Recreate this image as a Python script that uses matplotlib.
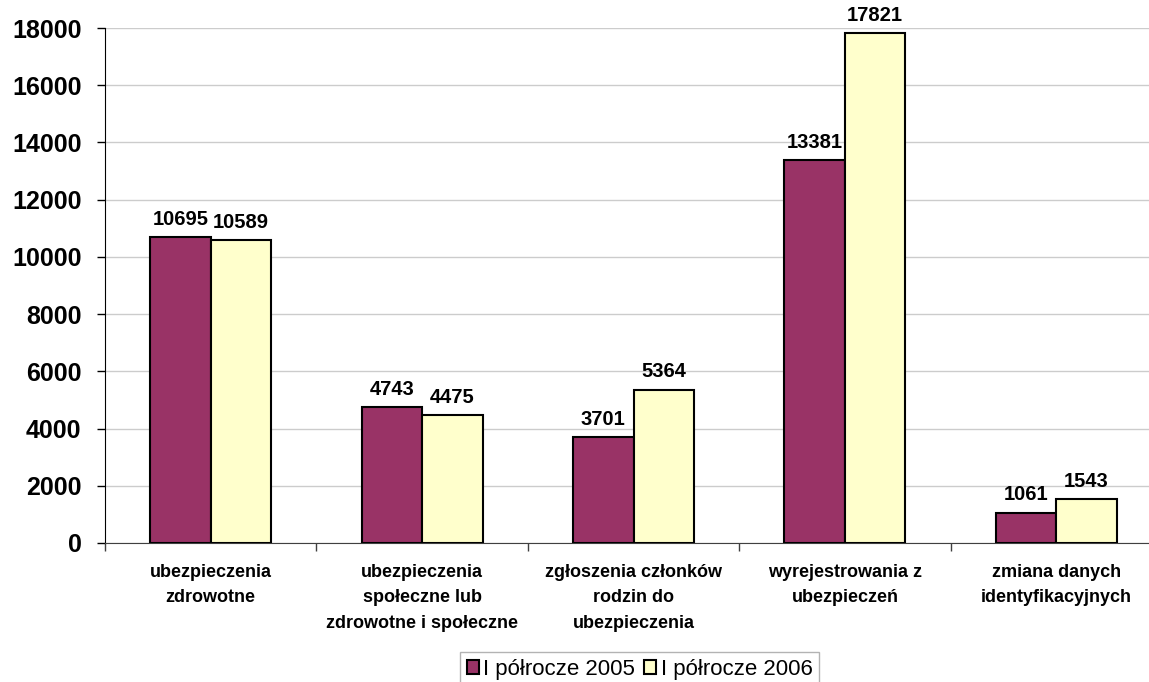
import numpy as np
import matplotlib.pyplot as plt

plt.rcParams['font.family'] = ['Liberation Sans', 'DejaVu Sans']

# dane
kategorie = ["ubezpieczenia\nzdrowotne",
             "ubezpieczenia\nspołeczne lub\nzdrowotne i społeczne",
             "zgłoszenia członków\nrodzin do\nubezpieczenia",
             "wyrejestrowania z\nubezpieczeń",
             "zmiana danych\nidentyfikacyjnych"]
polrocze_2005 = [10695, 4743, 3701, 13381, 1061]
polrocze_2006 = [10589, 4475, 5364, 17821, 1543]
serie = ["I półrocze 2005", "I półrocze 2006"]
y_ticks = [0, 2000, 4000, 6000, 8000, 10000, 12000, 14000, 16000, 18000]

fig = plt.figure(figsize=(11.49, 6.82), dpi=100)
ax = fig.add_axes([105 / 1149, 1 - 543 / 682, 1057 / 1149, 515 / 682])

x = np.arange(len(kategorie))
w = 0.286
b1 = ax.bar(x - w / 2, polrocze_2005, w, color='#993366', edgecolor='black', linewidth=1.5, label=serie[0], zorder=3)
b2 = ax.bar(x + w / 2, polrocze_2006, w, color='#FFFFCC', edgecolor='black', linewidth=1.5, label=serie[1], zorder=3)

for bars in (b1, b2):
    for r in bars:
        ax.annotate(str(int(r.get_height())), (r.get_x() + r.get_width() / 2, r.get_height()),
                    xytext=(0, 6), textcoords='offset points', ha='center', va='bottom',
                    fontsize=14.5, fontweight='bold')

ax.set_ylim(0, 18000)
ax.set_xlim(-0.5, len(kategorie) - 0.5)
ax.set_yticks(y_ticks)
ax.set_yticklabels([str(v) for v in y_ticks], fontsize=18, fontweight='bold')
ax.tick_params(axis='y', length=6, width=1, pad=11)

# podziałka kategorii
ax.set_xticks(np.arange(-0.5, len(kategorie), 1.0))
ax.set_xticklabels([])
ax.tick_params(axis='x', which='major', length=6, width=1, color='#404040')
ax.set_xticks(x, minor=True)
ax.set_xticklabels(kategorie, minor=True, fontsize=13, fontweight='bold', linespacing=1.65, va='top')
ax.tick_params(axis='x', which='minor', length=0, pad=15)

ax.grid(axis='y', color='#CCCCCC', linewidth=1, zorder=0)
for s in ('top', 'right'):
    ax.spines[s].set_visible(False)
ax.spines['left'].set_color('black')
ax.spines['bottom'].set_color('#404040')

leg = fig.legend(handles=[b1, b2], loc='upper left', bbox_to_anchor=(460 / 1149, 1 - 652 / 682),
                 ncol=2, fontsize=16, frameon=True, fancybox=False, edgecolor='#A0A0A0',
                 handlelength=0.55, handleheight=0.55, handletextpad=0.2, columnspacing=0.4,
                 borderpad=0.3, borderaxespad=0)
leg.get_frame().set_linewidth(1)

fig.savefig('out.png', dpi=100)
